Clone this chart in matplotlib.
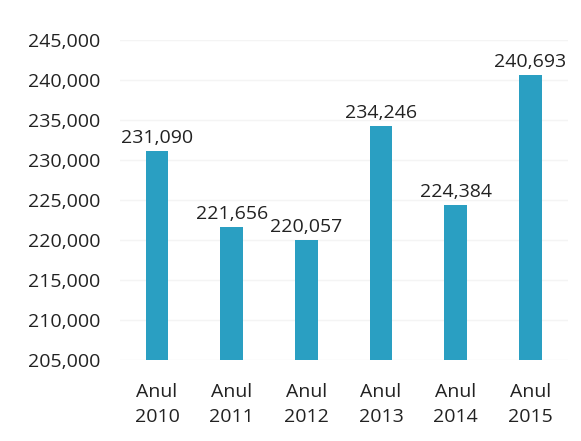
import matplotlib.pyplot as plt
import matplotlib.ticker

plt.rcParams['font.family'] = ['Open Sans', 'DejaVu Sans']

years = ['Anul\n2010', 'Anul\n2011', 'Anul\n2012', 'Anul\n2013', 'Anul\n2014', 'Anul\n2015']
values = [231090, 221656, 220057, 234246, 224384, 240693]

fig = plt.figure(figsize=(5.81, 4.41), dpi=100)
ax = fig.add_axes([0.206, 0.184, 0.771, 0.725])

x = range(len(years))
ax.bar(x, values, width=0.3, color='#2a9fc2', zorder=2)
for i, v in enumerate(values):
    ax.text(i, v + 500, '{:,}'.format(v), ha='center', va='bottom', fontsize=14, color='#222222')

ax.set_ylim(205000, 245000)
ax.set_xlim(-0.5, 5.5)
ax.yaxis.set_major_locator(matplotlib.ticker.MultipleLocator(5000))
ax.yaxis.set_major_formatter(matplotlib.ticker.FuncFormatter(lambda v, p: '{:,.0f}'.format(v)))
ax.set_xticks(list(x))
ax.set_xticklabels(years, fontsize=14, color='#222222', linespacing=1.45)
ax.tick_params(axis='y', labelsize=14, labelcolor='#222222', length=0, pad=14)
ax.tick_params(axis='x', length=0, pad=17)
ax.grid(axis='y', color='#f4f4f4', linewidth=1, zorder=0)
for s in ax.spines.values():
    s.set_visible(False)

plt.savefig('out.png')
